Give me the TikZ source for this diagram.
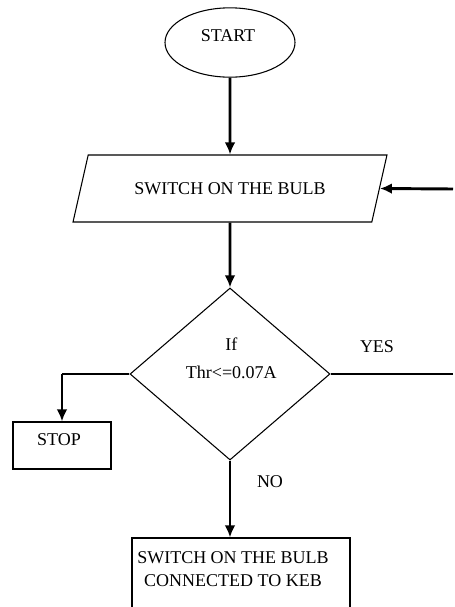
\documentclass[tikz,border=0pt]{standalone}
\usepackage{fontspec}
\setmainfont{Liberation Serif}
\usetikzlibrary{shapes.geometric, arrows.meta}
% text placed off the centre of its box: x shift (twice), raise, lines
\newcommand{\offtext}[3]{\raisebox{#2}[0pt][0pt]{\makebox[0pt]{\hspace*{#1}\begin{tabular}{@{}c@{}}#3\end{tabular}}}}

\begin{document}
\begin{tikzpicture}[x=0.75pt, y=-0.75pt,
	outline/.style={draw, line width=0.8pt, inner sep=0pt},
	flow/.style={line width=2.2pt, -{Latex[length=9pt,width=8pt]}},
	branch/.style={line width=1pt},
	every node/.style={font=\fontsize{13.5}{15.5}\selectfont}]
\useasboundingbox (0,0) rectangle (454,607);

\node[outline, ellipse, minimum width=97.5pt, minimum height=52pt] (start) at (230,42.5) {\offtext{-3pt}{0pt}{START}};
\node[outline, trapezium, trapezium left angle=59, trapezium right angle=121, trapezium stretches,
	inner sep=2pt, minimum width=235.5pt, minimum height=50.25pt] (bulb) at (230,188.5) {SWITCH ON THE BULB};
\node[outline, diamond, minimum width=150pt, minimum height=129pt] (test) at (230,374) {\offtext{2pt}{6.5pt}{If\\[5.5pt]Thr<=0.07A}};
\node[outline, minimum width=73.5pt, minimum height=35.25pt] (stop) at (62,445.5) {\offtext{-4.5pt}{-0.6pt}{STOP}};
\node[outline, minimum width=163.5pt, minimum height=56.25pt] (keb) at (241,575.5) {\offtext{-12pt}{-0.3pt}{SWITCH ON THE BULB\\[1.5pt]CONNECTED TO KEB}};

\node (yes) at (377,347) {YES};
\node (no) at (270,482) {NO};

\coordinate (back) at (453,189);
\coordinate (yesend) at (453,374);
\coordinate (turn) at (test.west -| stop.north);

\draw[flow] (start) -- (bulb);
\draw[flow] (bulb) -- (test);
\draw[flow] (back) -- (bulb.east);
\draw[branch] (test.east) -- (yesend);
\draw[branch] (test.west) -- (turn);
\draw[flow] (turn) -- (stop.north);
\draw[flow] (test.south) -- (test.south |- keb.north);
\end{tikzpicture}
\end{document}
